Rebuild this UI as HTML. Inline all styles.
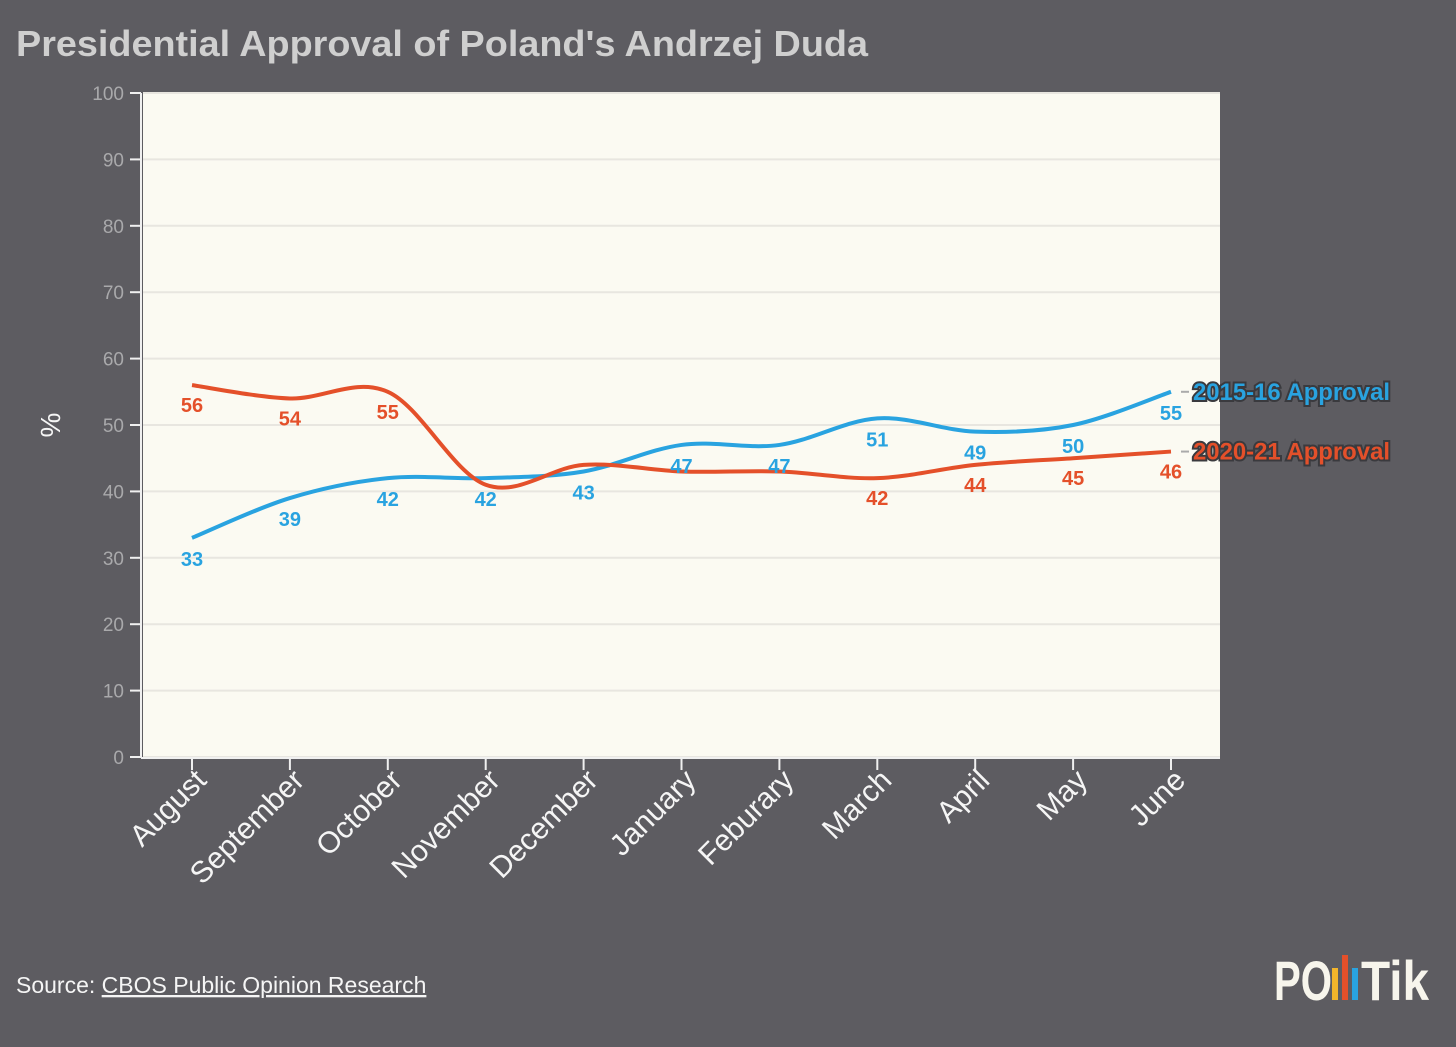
<!DOCTYPE html>
<html><head><meta charset="utf-8"><style>
body{margin:0;background:#5d5c61;}
svg{display:block;font-family:"Liberation Sans",sans-serif;}
</style></head><body>
<svg id="chart" width="1456" height="1047" viewBox="0 0 1456 1047">
<rect width="1456" height="1047" fill="#5d5c61"/>
<text x="16" y="56" font-size="36" font-weight="bold" fill="#cfcfcf" textLength="852" lengthAdjust="spacingAndGlyphs">Presidential Approval of Poland's Andrzej Duda</text>
<rect x="143" y="93" width="1077" height="664" fill="#fbfaf2"/>
<g id="grid"></g>
<g id="axes"></g>
<g id="series"></g>
<g id="labels"></g>
<text transform="translate(60,425) rotate(-90)" text-anchor="middle" font-size="28" fill="#f5f5f5">%</text>
<text x="16" y="993" font-size="23" fill="#f5f5f5">Source: <tspan text-decoration="underline">CBOS Public Opinion Research</tspan></text>
<g>
<text x="1274" y="1000" font-size="56" font-weight="bold" fill="#f7f5ec" textLength="58" lengthAdjust="spacingAndGlyphs">PO</text>
<rect x="1332" y="968" width="6" height="32" fill="#f3b52b"/>
<rect x="1342" y="955" width="6" height="45" fill="#e4502a"/>
<rect x="1352" y="968" width="6" height="32" fill="#29a3e0"/>
<text x="1361" y="1000" font-size="56" font-weight="bold" fill="#f7f5ec" textLength="68" lengthAdjust="spacingAndGlyphs">Tik</text>
</g>
</svg>
<script>
const months=["August","September","October","November","December","January","Feburary","March","April","May","June"];
const approval1516=[33,39,42,42,43,47,47,51,49,50,55];
const approval2021=[56,54,55,41,44,43,43,42,44,45,46];
const show2021=[true,true,true,false,false,false,false,true,true,true,true];
const yTicks=[0,10,20,30,40,50,60,70,80,90,100];
const NS="http://www.w3.org/2000/svg";
const x=i=>192+i*97.9;
const y=v=>757-v*6.64;
function mk(tag,attrs,parent,txt){const e=document.createElementNS(NS,tag);for(const k in attrs)e.setAttribute(k,attrs[k]);if(txt!==undefined)e.textContent=txt;parent.appendChild(e);return e;}
const grid=document.getElementById('grid'),axes=document.getElementById('axes'),series=document.getElementById('series'),labels=document.getElementById('labels');
yTicks.forEach(t=>{
 const g=mk('line',{x1:143,x2:1220,y1:y(t),y2:y(t),stroke:'#e8e6e0','stroke-width':2},grid);
 
 
 const tk=mk('line',{x1:130,x2:141,y1:y(t),y2:y(t),stroke:'#f0f0f0','stroke-width':2},axes);
 
 
 const tl=mk('text',{x:124,y:y(t)+7,'text-anchor':'end','font-size':19,fill:'#a9a9ab'},axes,t);
 
 
});
const yl=mk('line',{x1:141,x2:141,y1:93,y2:758,stroke:'#f0f0f0','stroke-width':2},axes);


const xl=mk('line',{x1:141,x2:1220,y1:758,y2:758,stroke:'#f0f0f0','stroke-width':2},axes);


months.forEach((m,i)=>{
 const tk=mk('line',{x1:x(i),x2:x(i),y1:758,y2:770,stroke:'#f0f0f0','stroke-width':2},axes);
 
 
 const t=mk('text',{transform:`translate(${x(i)+16},${782}) rotate(-45)`,'text-anchor':'end','font-size':30,fill:'#f5f5f5'},axes,m);
 
 
});
function path(vals){
 const p=vals.map((v,i)=>[x(i),y(v)]);
 let d=`M${p[0][0]},${p[0][1]}`;
 for(let i=0;i<p.length-1;i++){
  const p0=p[i-1]||p[i],p1=p[i],p2=p[i+1],p3=p[i+2]||p[i+1];
  const c1=[p1[0]+(p2[0]-p0[0])/6,p1[1]+(p2[1]-p0[1])/6];
  const c2=[p2[0]-(p3[0]-p1[0])/6,p2[1]-(p3[1]-p1[1])/6];
  d+=`C${c1[0]},${c1[1]} ${c2[0]},${c2[1]} ${p2[0]},${p2[1]}`;
 }
 return d;
}
const sA=mk('path',{d:path(approval1516),fill:'none',stroke:'#29a3e0','stroke-width':4},series);


const sB=mk('path',{d:path(approval2021),fill:'none',stroke:'#e4502a','stroke-width':4},series);


approval1516.forEach((v,i)=>{
 const t=mk('text',{x:x(i),y:y(v)+28,'text-anchor':'middle','font-size':20,'font-weight':'bold',fill:'#29a3e0'},labels,v);
 
 
});
approval2021.forEach((v,i)=>{
 if(!show2021[i])return;
 const t=mk('text',{x:x(i),y:y(v)+27,'text-anchor':'middle','font-size':20,'font-weight':'bold',fill:'#e4502a'},labels,v);
 
 
});
const last=months.length-1;
[[approval1516,'#29a3e0','2015-16 Approval','end-label-2015-16'],[approval2021,'#e4502a','2020-21 Approval','end-label-2020-21']].forEach(([arr,c,txt,n])=>{
 const yy=y(arr[last]);
 const dash=mk('line',{x1:x(last)+10,x2:x(last)+18,y1:yy,y2:yy,stroke:'#aaa','stroke-width':2},labels);
 
 
 const t=mk('text',{x:x(last)+22,y:yy+8,'font-size':24,'font-weight':'bold',fill:c,stroke:'#3a3a3e','stroke-width':4,'paint-order':'stroke',textLength:197,lengthAdjust:'spacingAndGlyphs'},labels,txt);
 
 
});
</script>
</body></html>
